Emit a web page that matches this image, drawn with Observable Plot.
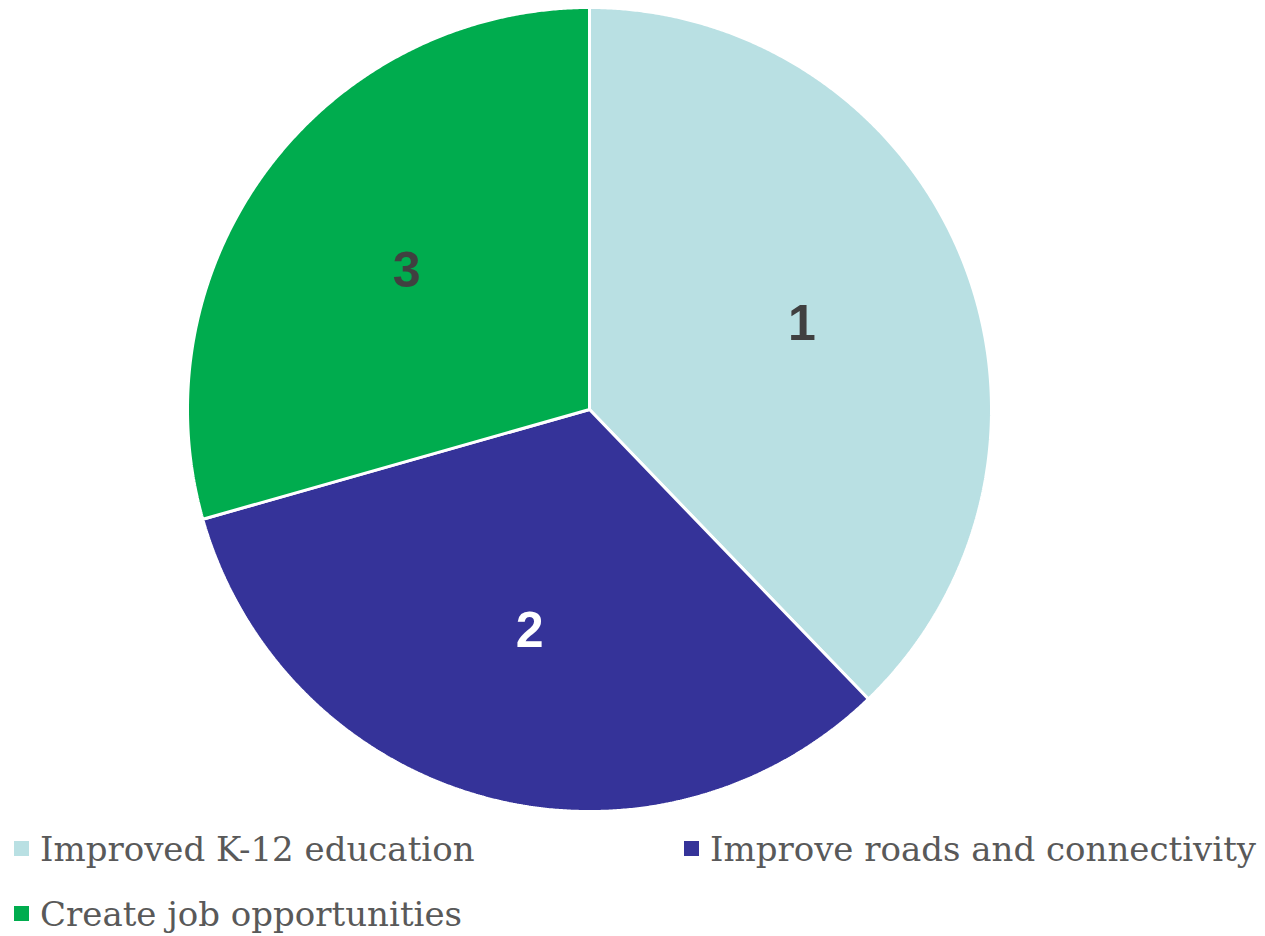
<!DOCTYPE html>
<html>
<head>
<meta charset="utf-8">
<script src="https://cdn.jsdelivr.net/npm/d3@7"></script>
<script src="https://cdn.jsdelivr.net/npm/@observablehq/plot@0.6"></script>
<style>
  html, body { margin: 0; padding: 0; background: #fff; }
  #chart svg { display: block; }
  .legend { display: grid; grid-template-columns: 670px 590px; padding-left: 14px;
            font-family: "DejaVu Serif", serif; font-size: 34px; color: #595959; }
  .item { display: flex; align-items: center; height: 65px; white-space: nowrap; }
  .sw { width: 15px; height: 15px; margin-right: 11px; flex: none; }
</style>
</head>
<body>
<div id="chart"></div>
<div class="legend" id="legend"></div>
<script>
const categories = ["Improved K-12 education", "Improve roads and connectivity", "Create job opportunities"];
const values = [37.8, 32.8, 29.4];
const labels = ["1", "2", "3"];
const colors = ["#B9E0E3", "#353399", "#00AC4E"];
const labelColors = ["#404040", "#FFFFFF", "#404040"];

const arcs = d3.pie().sort(null).value(d => d)(values);
const points = [];
const labelData = [];
arcs.forEach((a, i) => {
  const name = categories[i];
  points.push({name, x: 0, y: 0});
  const n = Math.max(2, Math.ceil((a.endAngle - a.startAngle) / 0.005));
  for (let k = 0; k <= n; k++) {
    const t = a.startAngle + (a.endAngle - a.startAngle) * k / n;
    points.push({name, x: Math.sin(t), y: Math.cos(t)});
  }
  points.push({name, x: 0, y: 0});
  const mid = (a.startAngle + a.endAngle) / 2;
  labelData.push({label: labels[i], color: labelColors[i], x: 0.57 * Math.sin(mid), y: 0.57 * Math.cos(mid)});
});

const plot = Plot.plot({
  width: 1265,
  height: 816,
  marginLeft: 187,
  marginRight: 1265 - 991,
  marginTop: 7,
  marginBottom: 816 - 811,
  x: {domain: [-1, 1], axis: null},
  y: {domain: [-1, 1], axis: null},
  color: {domain: categories, range: colors},
  marks: [
    Plot.line(points, {x: "x", y: "y", z: "name", fill: "name", stroke: "white", strokeWidth: 3, strokeLinejoin: "miter", curve: "linear"}),
    Plot.text(labelData, {x: "x", y: "y", text: "label", fill: d => d.color, fontSize: 50, fontWeight: "bold", fontFamily: "Liberation Sans, Arial, sans-serif"})
  ]
});
document.getElementById("chart").appendChild(plot);

const legend = document.getElementById("legend");
categories.forEach((c, i) => {
  const item = document.createElement("div");
  item.className = "item";
  const sw = document.createElement("span");
  sw.className = "sw";
  sw.style.background = colors[i];
  const tx = document.createElement("span");
  tx.textContent = c;
  item.appendChild(sw);
  item.appendChild(tx);
  legend.appendChild(item);
});
</script>
</body>
</html>
